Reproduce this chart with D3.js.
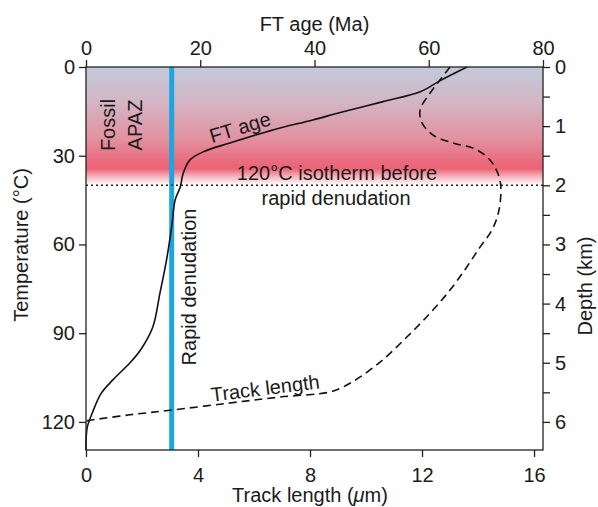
<!doctype html>
<html>
<head>
<meta charset="UTF-8">
<title>FT age and track length</title>
<script src="https://d3js.org/d3.v7.min.js"></script>
<style>
  body { margin: 0; background: #fff; }
  svg text { font-family: "Liberation Sans", Arial, Helvetica, sans-serif; fill: #1a1a1a; }
  .axis text { font-size: 20px; }
  .axis line { stroke: #222; stroke-width: 1.3; }
</style>
</head>
<body>
<svg id="chart" width="598" height="507"></svg>
<script>
// FT age curve: [age (Ma), temperature (°C)]
var ftAge = [[66.7,0],[62.0,4.6],[58.5,8.4],[52.0,11.7],[44.5,15.4],[39.7,17.9],[32.7,21.3],
  [25.2,25.7],[20.5,28.7],[18.2,31.4],[17.0,36],[16.5,40.6],[15.6,45],[15.0,54],[14.1,65.2],
  [12.95,76.4],[11.7,87.9],[9.6,95.5],[7.7,100],[4.7,105.8],[2.6,110.5],[1.1,117],[0.2,122],[0,129.5]];

// track length curve: [length (um), temperature (°C)]
var trackLength = [[13.0,0],[12.64,4.4],[12.29,8.8],[11.93,14.5],[12.0,18.9],[12.39,23],[13.1,25.7],
  [13.82,27.4],[14.32,30.4],[14.6,33.8],[14.8,39.2],[14.75,48.3],[14.5,55.1],[14.07,60.9],[13.6,67.6],
  [13.0,75.4],[12.29,83.2],[11.46,91.3],[10.6,99],[9.79,104.8],[9.18,108.2],[8.71,109.9],[6.93,111.6],
  [5.14,113.6],[3.07,116],[1.57,117.6],[0.25,119.3],[0,119.7]];

var ageTicks = [0, 20, 40, 60, 80];
var lengthTicks = [0, 4, 8, 12, 16];
var tempTicks = [0, 30, 60, 90, 120];
var depthTicks = [0, 0.5, 1, 1.5, 2, 2.5, 3, 3.5, 4, 4.5, 5, 5.5, 6];

var apazTop = 0, apazBottom = 40;   // fossil APAZ band (°C)
var isotherm = 40;                  // 120°C isotherm before denudation
var denudationAge = 15;             // rapid denudation (Ma)

var pL = 86, pR = 543, pT = 67, pB = 450;

var xLen = d3.scaleLinear().domain([0, 16.32]).range([pL, pR]);
var xAge = d3.scaleLinear().domain([0, 80]).range([pL, pR]);
var yT = d3.scaleLinear().domain([0, 129.5]).range([pT, pB]);
var yD = d3.scaleLinear().domain([0, 6.475]).range([pT, pB]);

var svg = d3.select("#chart");

// gradient band
var grad = svg.append("defs").append("linearGradient")
  .attr("id", "band").attr("x1", 0).attr("y1", 0).attr("x2", 0).attr("y2", 1);
[[0, "#c3cadb"], [0.3, "#d3b5c4"], [0.6, "#e292a1"], [0.8, "#ea6b7e"], [0.86, "#ec6376"],
 [0.93, "#f6b8c1"], [1, "#ffffff"]].forEach(function (s) {
  grad.append("stop").attr("offset", s[0]).attr("stop-color", s[1]);
});

svg.append("rect")
  .attr("x", pL).attr("y", yT(apazTop))
  .attr("width", pR - pL).attr("height", yT(apazBottom) - yT(apazTop))
  .attr("fill", "url(#band)");

// rapid denudation line
svg.append("line")
  .attr("x1", xAge(denudationAge)).attr("x2", xAge(denudationAge))
  .attr("y1", pT).attr("y2", pB)
  .attr("stroke", "#1ca6df").attr("stroke-width", 5);

// isotherm dotted line
svg.append("line")
  .attr("x1", pL).attr("x2", pR)
  .attr("y1", yT(isotherm)).attr("y2", yT(isotherm))
  .attr("stroke", "#222").attr("stroke-width", 1.5).attr("stroke-dasharray", "2,3");

// curves
var ageLine = d3.line()
  .x(function (d) { return xAge(d[0]); })
  .y(function (d) { return yT(d[1]); })
  .curve(d3.curveCatmullRom);
var lenLine = d3.line()
  .x(function (d) { return xLen(d[0]); })
  .y(function (d) { return yT(d[1]); })
  .curve(d3.curveCatmullRom);

svg.append("path").datum(ftAge).attr("d", ageLine)
  .attr("fill", "none").attr("stroke", "#111").attr("stroke-width", 1.6);
svg.append("path").datum(trackLength).attr("d", lenLine)
  .attr("fill", "none").attr("stroke", "#111").attr("stroke-width", 1.6)
  .attr("stroke-dasharray", "8,5");

// frame
svg.append("rect")
  .attr("x", pL).attr("y", pT).attr("width", pR - pL).attr("height", pB - pT)
  .attr("fill", "none").attr("stroke", "#222").attr("stroke-width", 1.3);

// axes
svg.append("g").attr("class", "axis").attr("transform", "translate(0," + pT + ")")
  .call(d3.axisTop(xAge).tickValues(ageTicks).tickSize(7).tickPadding(5));
svg.append("g").attr("class", "axis").attr("transform", "translate(0," + pB + ")")
  .call(d3.axisBottom(xLen).tickValues(lengthTicks).tickSize(7).tickPadding(11));
svg.append("g").attr("class", "axis").attr("transform", "translate(" + pL + ",0)")
  .call(d3.axisLeft(yT).tickValues(tempTicks).tickSize(7).tickPadding(4));
svg.append("g").attr("class", "axis").attr("transform", "translate(" + pR + ",0)")
  .call(d3.axisRight(yD).tickValues(depthTicks).tickSize(7).tickPadding(5)
    .tickFormat(function (d) { return Number.isInteger(d) ? d : ""; }));
svg.selectAll(".axis .domain").remove();
svg.selectAll(".axis text").attr("fill", "#1a1a1a");

// axis titles
svg.append("text").attr("x", (pL + pR) / 2).attr("y", 31)
  .attr("text-anchor", "middle").style("font-size", "20px").text("FT age (Ma)");

var bt = svg.append("text").attr("x", 310).attr("y", 502)
  .attr("text-anchor", "middle").style("font-size", "20px");
bt.append("tspan").text("Track length (");
bt.append("tspan").style("font-style", "italic").text("\u03bc");
bt.append("tspan").text("m)");

svg.append("text").attr("transform", "translate(28,245) rotate(-90)")
  .attr("text-anchor", "middle").style("font-size", "20px").text("Temperature (\u00b0C)");
svg.append("text").attr("transform", "translate(592,286) rotate(-90)")
  .attr("text-anchor", "middle").style("font-size", "20px").text("Depth (km)");

// annotations
svg.append("text").attr("transform", "translate(115,125) rotate(-90)")
  .attr("text-anchor", "middle").style("font-size", "20px").text("Fossil");
svg.append("text").attr("transform", "translate(142,125) rotate(-90)")
  .attr("text-anchor", "middle").style("font-size", "20px").text("APAZ");
svg.append("text").attr("transform", "translate(196,287) rotate(-90)")
  .attr("text-anchor", "middle").style("font-size", "20px").text("Rapid denudation");
svg.append("text").attr("transform", "translate(242,134) rotate(-17)")
  .attr("text-anchor", "middle").style("font-size", "20px").text("FT age");
svg.append("text").attr("transform", "translate(266,395) rotate(-7)")
  .attr("text-anchor", "middle").style("font-size", "20px").text("Track length");
svg.append("text").attr("x", 337).attr("y", 180)
  .attr("text-anchor", "middle").style("font-size", "20px").text("120\u00b0C isotherm before");
svg.append("text").attr("x", 336).attr("y", 205)
  .attr("text-anchor", "middle").style("font-size", "20px").text("rapid denudation");
</script>
</body>
</html>
